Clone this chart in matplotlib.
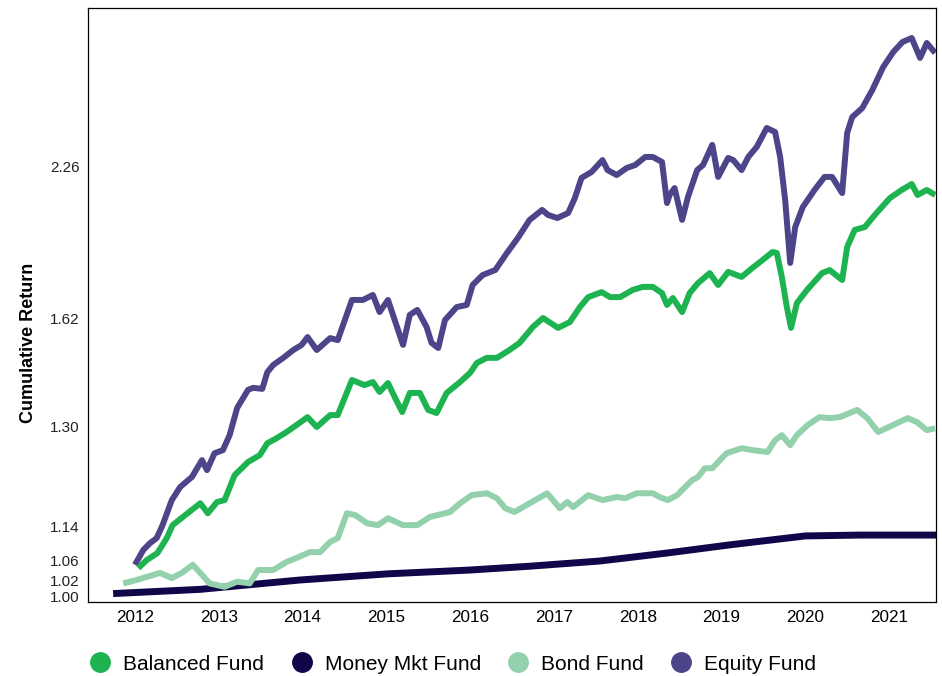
import matplotlib
matplotlib.use('Agg')
import matplotlib.pyplot as plt
from matplotlib.lines import Line2D
import numpy as np

plt.rcParams['font.family'] = ['Liberation Sans', 'DejaVu Sans']

# series (dates as fractional years)
eq_t = [2012.00, 2012.10, 2012.18, 2012.26, 2012.33, 2012.44, 2012.54, 2012.68, 2012.80, 2012.86,
        2012.95, 2013.05, 2013.13, 2013.22, 2013.35, 2013.41, 2013.52, 2013.58, 2013.65, 2013.77,
        2013.89, 2013.99, 2014.06, 2014.17, 2014.33, 2014.42, 2014.59, 2014.72, 2014.84, 2014.92,
        2015.02, 2015.10, 2015.20, 2015.28, 2015.37, 2015.48, 2015.54, 2015.62, 2015.70, 2015.84,
        2015.96, 2016.03, 2016.15, 2016.30, 2016.44, 2016.57, 2016.71, 2016.86, 2016.93, 2017.04,
        2017.17, 2017.25, 2017.33, 2017.45, 2017.58, 2017.64, 2017.75, 2017.87, 2017.97, 2018.09,
        2018.18, 2018.29, 2018.35, 2018.38, 2018.44, 2018.53, 2018.60, 2018.71, 2018.78, 2018.89,
        2018.96, 2019.08, 2019.14, 2019.24, 2019.32, 2019.42, 2019.54, 2019.64, 2019.70, 2019.76,
        2019.82, 2019.88, 2019.97, 2020.11, 2020.23, 2020.32, 2020.44, 2020.50, 2020.56, 2020.68,
        2020.80, 2020.93, 2021.05, 2021.16, 2021.27, 2021.37, 2021.45, 2021.55]
equity = [1.052, 1.086, 1.102, 1.114, 1.143, 1.183, 1.204, 1.220, 1.247, 1.231,
          1.258, 1.263, 1.287, 1.356, 1.409, 1.415, 1.412, 1.461, 1.482, 1.503,
          1.526, 1.541, 1.564, 1.526, 1.561, 1.555, 1.696, 1.696, 1.717, 1.645,
          1.696, 1.614, 1.541, 1.633, 1.654, 1.594, 1.547, 1.532, 1.614, 1.666,
          1.675, 1.759, 1.801, 1.822, 1.894, 1.957, 2.033, 2.075, 2.054, 2.041,
          2.062, 2.125, 2.210, 2.235, 2.285, 2.243, 2.222, 2.252, 2.264, 2.298,
          2.298, 2.277, 2.104, 2.138, 2.167, 2.033, 2.130, 2.243, 2.264, 2.349,
          2.214, 2.294, 2.285, 2.243, 2.298, 2.340, 2.420, 2.403, 2.298, 2.117,
          1.852, 2.003, 2.087, 2.159, 2.214, 2.214, 2.146, 2.399, 2.466, 2.504,
          2.580, 2.677, 2.740, 2.782, 2.799, 2.715, 2.778, 2.736]

bal_t = [2012.04, 2012.14, 2012.27, 2012.38, 2012.45, 2012.60, 2012.78, 2012.87, 2012.98, 2013.07,
         2013.19, 2013.35, 2013.49, 2013.58, 2013.69, 2013.81, 2013.93, 2014.06, 2014.17, 2014.33,
         2014.42, 2014.59, 2014.74, 2014.84, 2014.92, 2015.02, 2015.10, 2015.19, 2015.28, 2015.40,
         2015.50, 2015.60, 2015.72, 2015.88, 2016.00, 2016.08, 2016.20, 2016.32, 2016.47, 2016.59,
         2016.75, 2016.87, 2017.05, 2017.19, 2017.31, 2017.41, 2017.57, 2017.67, 2017.79, 2017.94,
         2018.06, 2018.18, 2018.29, 2018.35, 2018.42, 2018.53, 2018.62, 2018.72, 2018.86, 2018.96,
         2019.08, 2019.24, 2019.37, 2019.49, 2019.61, 2019.66, 2019.72, 2019.78, 2019.83, 2019.90,
         2020.02, 2020.20, 2020.29, 2020.44, 2020.50, 2020.59, 2020.71, 2020.85, 2021.01, 2021.15,
         2021.27, 2021.34, 2021.45, 2021.55]
balanced = [1.045, 1.062, 1.079, 1.114, 1.143, 1.159, 1.178, 1.162, 1.180, 1.183,
            1.223, 1.244, 1.255, 1.274, 1.282, 1.292, 1.306, 1.329, 1.300, 1.335,
            1.335, 1.438, 1.423, 1.432, 1.403, 1.429, 1.388, 1.344, 1.400, 1.400,
            1.350, 1.341, 1.400, 1.432, 1.459, 1.488, 1.503, 1.503, 1.526, 1.547,
            1.594, 1.620, 1.591, 1.608, 1.666, 1.708, 1.729, 1.708, 1.708, 1.738,
            1.751, 1.751, 1.725, 1.675, 1.704, 1.645, 1.725, 1.767, 1.809, 1.759,
            1.814, 1.793, 1.831, 1.864, 1.898, 1.894, 1.793, 1.666, 1.591, 1.683,
            1.738, 1.809, 1.822, 1.780, 1.919, 1.991, 2.003, 2.062, 2.125, 2.159,
            2.184, 2.138, 2.159, 2.138]

bond_t = [2011.86, 2012.02, 2012.30, 2012.44, 2012.56, 2012.69, 2012.78, 2012.89, 2013.07, 2013.22,
          2013.37, 2013.47, 2013.65, 2013.81, 2013.95, 2014.09, 2014.21, 2014.33, 2014.42, 2014.53,
          2014.63, 2014.77, 2014.90, 2015.02, 2015.20, 2015.37, 2015.52, 2015.76, 2015.88, 2016.02,
          2016.20, 2016.32, 2016.42, 2016.53, 2016.71, 2016.92, 2017.07, 2017.16, 2017.23, 2017.41,
          2017.58, 2017.75, 2017.85, 2017.99, 2018.18, 2018.26, 2018.36, 2018.47, 2018.65, 2018.72,
          2018.80, 2018.89, 2019.06, 2019.24, 2019.37, 2019.55, 2019.64, 2019.72, 2019.82, 2019.90,
          2020.03, 2020.17, 2020.29, 2020.41, 2020.62, 2020.74, 2020.87, 2021.05, 2021.22, 2021.33,
          2021.45, 2021.55]
bond = [1.016, 1.020, 1.035, 1.024, 1.035, 1.052, 1.035, 1.016, 1.012, 1.018,
        1.016, 1.041, 1.041, 1.058, 1.069, 1.081, 1.081, 1.105, 1.114, 1.162,
        1.159, 1.146, 1.143, 1.154, 1.143, 1.143, 1.156, 1.164, 1.178, 1.191,
        1.194, 1.186, 1.170, 1.164, 1.178, 1.194, 1.170, 1.180, 1.172, 1.191,
        1.183, 1.188, 1.186, 1.194, 1.194, 1.188, 1.183, 1.191, 1.215, 1.220,
        1.234, 1.234, 1.258, 1.266, 1.263, 1.260, 1.279, 1.287, 1.271, 1.287,
        1.306, 1.329, 1.326, 1.329, 1.350, 1.326, 1.292, 1.306, 1.326, 1.315,
        1.295, 1.298]

mm_t = [2011.74, 2012.78, 2013.97, 2015.02, 2016.00, 2016.71, 2017.55, 2018.36, 2019.10, 2019.70,
        2020.00, 2020.65, 2021.56]
money = [1.004, 1.009, 1.020, 1.033, 1.041, 1.049, 1.060, 1.079, 1.098, 1.112,
         1.119, 1.121, 1.121]

years = list(range(2012, 2022))
y_ticks = [1.00, 1.02, 1.06, 1.14, 1.30, 1.62, 2.26]

# uneven y axis: tick values placed at fixed heights (pixels above bottom spine)
scale_vals = [0.90] + y_ticks + [3.50]
scale_pos = [-80, 5, 22, 41, 75, 175, 284, 436, 730.5]

def fwd(v):
    return np.interp(v, scale_vals, scale_pos)

def inv(p):
    return np.interp(p, scale_pos, scale_vals)

fig = plt.figure(figsize=(9.42, 6.76), dpi=100)
ax = fig.add_axes([88/942, 74/676, 848/942, 594/676])
ax.set_yscale('function', functions=(fwd, inv))

c_bal = '#1db350'
c_mm = '#10064a'
c_bond = '#92d1ac'
c_eq = '#4d4589'

kw = dict(solid_capstyle='butt', solid_joinstyle='round')
ax.plot(mm_t, money, color=c_mm, lw=5.0, zorder=2, **kw)
ax.plot(bond_t, bond, color=c_bond, lw=4.3, zorder=3, **kw)
ax.plot(eq_t, equity, color=c_eq, lw=4.3, zorder=4, **kw)
ax.plot(bal_t, balanced, color=c_bal, lw=4.3, zorder=5, **kw)

ax.set_xlim(2011.44, 2021.56)
ax.set_ylim(inv(0), inv(594))
ax.set_xticks(years)
ax.set_xticklabels([str(y) for y in years], fontsize=12.3)
ax.set_yticks(y_ticks)
ax.set_yticklabels(['%.2f' % v for v in y_ticks], fontsize=11, color='#222222')
ax.tick_params(axis='both', length=0)
ax.tick_params(axis='y', pad=6)
ax.tick_params(axis='x', pad=6)
for s in ax.spines.values():
    s.set_linewidth(0.9)
    s.set_color('black')

ax.set_ylabel('Cumulative Return', fontsize=13, fontweight='bold')
ax.yaxis.set_label_coords(-0.06, 0.436)

names = ['Balanced Fund', 'Money Mkt Fund', 'Bond Fund', 'Equity Fund']
cols = [c_bal, c_mm, c_bond, c_eq]
handles = [Line2D([], [], ls='none', marker='o', markersize=14, color=c) for c in cols]
fig.legend(handles, names, loc='center left', bbox_to_anchor=(90/942, 12/676),
           ncol=4, frameon=False, fontsize=15, handlelength=1.0, handletextpad=0.6,
           columnspacing=1.3, borderpad=0, borderaxespad=0)

fig.savefig('out.png', dpi=100)
